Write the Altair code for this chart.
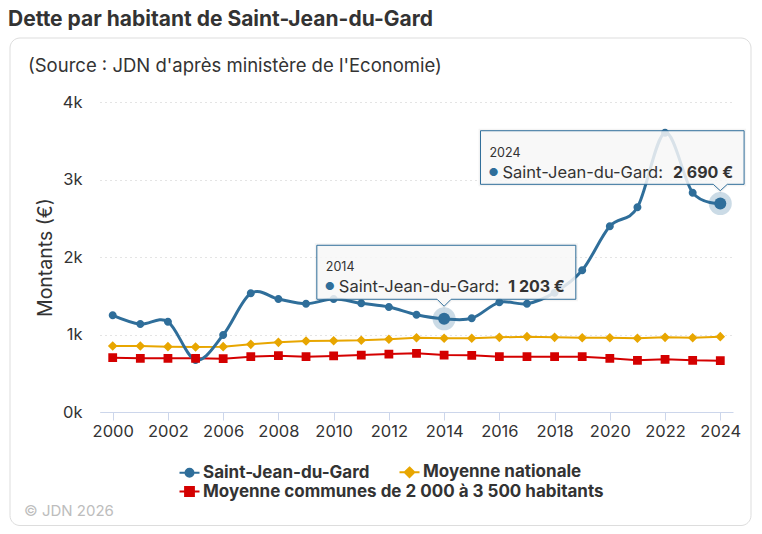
import altair as alt
import pandas as pd

# ---------------- data ----------------
annees = ["2000", "2001", "2002", "2005", "2006", "2007", "2008", "2009", "2010",
          "2011", "2012", "2013", "2014", "2015", "2016", "2017", "2018", "2019",
          "2020", "2021", "2022", "2023", "2024"]
series = ["Saint-Jean-du-Gard", "Moyenne nationale",
          "Moyenne communes de 2 000 à 3 500 habitants"]
saint_jean = [1248, 1135, 1165, 671, 994, 1532, 1458, 1397, 1458, 1403, 1355, 1255,
              1203, 1209, 1415, 1397, 1540, 1828, 2396, 2641, 3604, 2830, 2690]
moyenne_nationale = [852, 852, 843, 839, 843, 873, 899, 916, 920, 925, 938, 959,
                     951, 951, 963, 972, 963, 959, 959, 951, 963, 959, 972]
moyenne_communes = [701, 693, 693, 693, 688, 714, 727, 714, 723, 735, 748, 757,
                    735, 731, 714, 714, 714, 714, 693, 667, 680, 667, 662]
annees_etiquetees = annees[::2]
y_ticks = [0, 1000, 2000, 3000, 4000]
survols = ["2014", "2024"]

couleurs = ["#2f6e9a", "#e8a600", "#d40000"]
F = "Inter"
TXT = "#333333"

rows = []
for s, vals in zip(series, [saint_jean, moyenne_nationale, moyenne_communes]):
    for a, v in zip(annees, vals):
        rows.append({"annee": a, "serie": s, "valeur": v})
df = pd.DataFrame(rows)

one = pd.DataFrame({"k": [1]})

# ---------------- encodings ----------------
X = alt.X("annee:N",
          scale=alt.Scale(type="point", domain=annees, padding=0.46),
          axis=alt.Axis(values=annees_etiquetees, labelAngle=0, title=None,
                        domainColor="#ccd6eb", tickColor="#ccd6eb", tickSize=8,
                        labelPadding=3, labelFont=F, labelFontSize=16.5,
                        labelColor=TXT, grid=False))
Y = alt.Y("valeur:Q",
          scale=alt.Scale(domain=[0, 4000], nice=False),
          axis=alt.Axis(values=y_ticks, labelExpr="datum.value / 1000 + 'k'",
                        domain=False, ticks=False, labelPadding=18,
                        labelFont=F, labelFontSize=16.5, labelColor=TXT,
                        gridDash=[1, 4], gridColor="#c8c8c8",
                        title="Montants (€)", titleFont=F, titleFontSize=19.5,
                        titleFontWeight="normal", titleColor=TXT,
                        titleX=-55, titleY=155, titleAngle=270,
                        titleAlign="center", titleBaseline="middle"))

formes = [
    "M-2.5,0L2.5,0M1,0A1,1,0,1,1,-1,0A1,1,0,1,1,1,0Z",
    "M-2.5,0L2.5,0M0,-1.2L1.2,0L0,1.2L-1.2,0Z",
    "M-2.5,0L2.5,0M-1.1,-1.1L1.1,-1.1L1.1,1.1L-1.1,1.1Z",
]


def legende(y):
    return alt.Legend(title=None, orient="none", legendX=81, legendY=y,
                      direction="horizontal", columnPadding=25, padding=0,
                      labelFont=F, labelFontSize=17, labelFontWeight="bold",
                      labelColor=TXT, labelLimit=600, symbolSize=64,
                      labelOffset=5, symbolStrokeWidth=2)


# ---------------- layers ----------------
cadre = alt.Chart(one).mark_rect(fillOpacity=0, stroke="#dddddd", strokeWidth=1,
                                 cornerRadius=10).encode(
    x=alt.value(-90), x2=alt.value(651), y=alt.value(-64), y2=alt.value(423.5))

titre = alt.Chart(one).mark_text(
    text="Dette par habitant de Saint-Jean-du-Gard", align="left",
    baseline="middle", font=F, fontSize=21, fontWeight="bold", color=TXT
).encode(x=alt.value(-92), y=alt.value(-82))

sous_titre = alt.Chart(one).mark_text(
    text="(Source : JDN d'après ministère de l'Economie)", align="left",
    baseline="middle", font=F, fontSize=18.5, color=TXT
).encode(x=alt.value(-72), y=alt.value(-36))

credit = alt.Chart(one).mark_text(
    text="© JDN 2026", align="left", baseline="middle", font=F, fontSize=15,
    color="#bdbdbd"
).encode(x=alt.value(-76), y=alt.value(408.5))

base = alt.Chart(df)

ligne_sj = base.mark_line(interpolate="cardinal", strokeWidth=3,
                          color=couleurs[0]).encode(x=X, y=Y).transform_filter(
    alt.datum.serie == series[0])
ligne_mn = base.mark_line(strokeWidth=2, color=couleurs[1]).encode(
    x=X, y=Y).transform_filter(alt.datum.serie == series[1])
ligne_mc = base.mark_line(strokeWidth=2, color=couleurs[2]).encode(
    x=X, y=Y).transform_filter(alt.datum.serie == series[2])


def couche_points(dom, cols, shp, leg):
    return base.transform_filter(
        alt.FieldOneOfPredicate(field="serie", oneOf=dom)
    ).mark_point(filled=False, opacity=1, strokeWidth=0, size=64).encode(
        x=X, y=Y,
        fill=alt.Fill("serie:N", scale=alt.Scale(domain=dom, range=cols),
                      legend=leg, sort=dom),
        stroke=alt.Stroke("serie:N", scale=alt.Scale(domain=dom, range=cols),
                          legend=leg, sort=dom),
        shape=alt.Shape("serie:N", scale=alt.Scale(domain=dom, range=shp),
                        legend=leg, sort=dom),
    )


leg1 = legende(361.5)
leg2 = legende(381)
points_a = couche_points(series[:2], couleurs[:2], formes[:2], leg1)
points_b = couche_points(series[2:], couleurs[2:], formes[2:], leg2)

survol_df = df[(df.serie == series[0]) & (df.annee.isin(survols))].copy()
survol_df["texte"] = survol_df["valeur"].map(
    lambda v: f"{v:,}".replace(",", " ") + " €")

halo = alt.Chart(survol_df).mark_point(filled=True, shape="circle", size=529,
                                       color=couleurs[0], opacity=0.25,
                                       strokeWidth=0).encode(x=X, y=Y)
gros_point = alt.Chart(survol_df).mark_point(filled=True, shape="circle",
                                             size=144, color=couleurs[0],
                                             opacity=1, strokeWidth=0).encode(x=X, y=Y)


def bulle(annee, left, right, top, bottom, apex):
    u = 100.0
    L, R, T, B, A = left / u, right / u, top / u, bottom / u, apex / u
    w = 0.07
    path = (f"M{L},{T}L{R},{T}L{R},{B}L{w},{B}L0,{A}L{-w},{B}L{L},{B}Z")
    d = alt.Chart(survol_df).transform_filter(alt.datum.annee == annee)
    ombre = d.mark_point(shape=path, size=40000, filled=False, stroke="#000000",
                         strokeOpacity=0.06, strokeWidth=4).encode(x=X, y=Y)
    boite = d.mark_point(shape=path, size=40000, filled=True, fill="#f7f7f7",
                         fillOpacity=0.85, stroke=couleurs[0], strokeWidth=1,
                         opacity=1).encode(x=X, y=Y)
    an = d.mark_text(align="left", baseline="middle", font=F, fontSize=12.5,
                     color=TXT, dx=left + 9, dy=top + 22).encode(
        x=X, y=Y, text="annee:N")
    puce = d.mark_text(text="●", align="center", baseline="middle", font=F,
                       fontSize=11, color=couleurs[0], dx=left + 13,
                       dy=top + 42).encode(x=X, y=Y)
    nom = d.mark_text(align="left", baseline="middle", font=F, fontSize=16.5,
                      color=TXT, dx=left + 22, dy=top + 42).encode(
        x=X, y=Y, text=alt.value(series[0] + ":"))
    val = d.mark_text(align="right", baseline="middle", font=F, fontSize=16,
                      fontWeight="bold", color=TXT, dx=right - 11,
                      dy=top + 42).encode(x=X, y=Y, text="texte:N")
    return [ombre, boite, an, puce, nom, val]


bulle1 = bulle("2014", -127.3, 131.7, -73.5, -19.5, -12.5)
bulle2 = bulle("2024", -239.8, 23.8, -72.8, -19.2, -12.8)

chart = alt.layer(
    cadre, titre, sous_titre, credit,
    ligne_mc, ligne_mn, ligne_sj, points_a, points_b, halo, gros_point,
    *bulle1, *bulle2,
).resolve_scale(
    fill="independent", stroke="independent", shape="independent"
).properties(
    width=633, height=310,
    padding={"left": 92, "top": 94, "right": 21, "bottom": 114},
    autosize=alt.AutoSizeParams(type="none"),
    background="white",
).configure_view(stroke="transparent")

chart.save("out.html", embed_options={"renderer": "svg", "actions": False})
